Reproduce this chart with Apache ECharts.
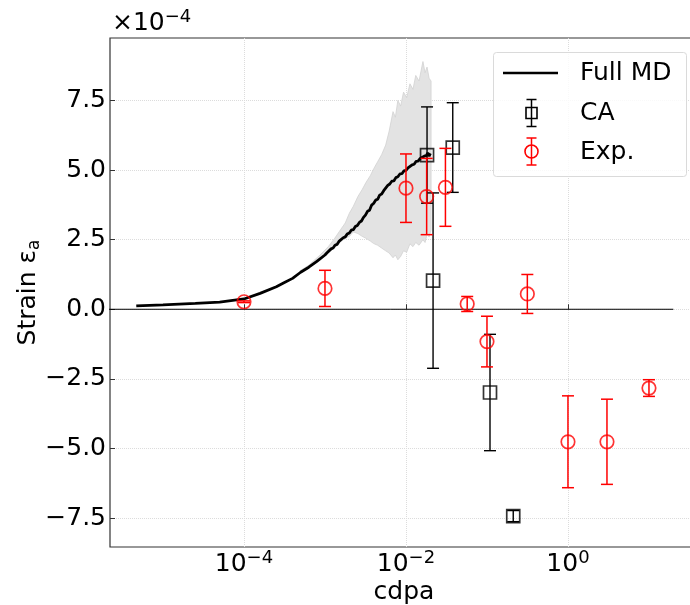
<!DOCTYPE html>
<html><head><meta charset="utf-8">
<script src="https://cdn.jsdelivr.net/npm/echarts@6/dist/echarts.min.js"></script>
<style>html,body{margin:0;padding:0;background:#fff}#c{width:690px;height:605px}</style>
</head><body><div id="c"></div>
<script>
const FONT = 'DejaVu Sans';
// tick positions
const xTicks = [1e-4, 1e-2, 1];
const yTicks = [-7.5, -5, -2.5, 0, 2.5, 5, 7.5];

// Full MD mean curve (cdpa, strain in 1e-4)
const mdX = [4.68e-6, 1e-5, 2.51e-5, 5.01e-5, 1e-4, 1.58e-4, 2.51e-4, 3.16e-4, 3.98e-4, 5.01e-4, 6.31e-4, 7.94e-4,
  1.00e-3, 1.06e-3, 1.12e-3, 1.19e-3, 1.26e-3, 1.33e-3, 1.41e-3, 1.50e-3, 1.58e-3, 1.68e-3, 1.78e-3, 1.88e-3,
  2.00e-3, 2.11e-3, 2.24e-3, 2.37e-3, 2.51e-3, 2.66e-3, 2.82e-3, 2.99e-3, 3.16e-3, 3.35e-3, 3.55e-3, 3.76e-3,
  3.98e-3, 4.22e-3, 4.47e-3, 4.73e-3, 5.01e-3, 5.31e-3, 5.62e-3, 5.96e-3, 6.31e-3, 6.68e-3, 7.08e-3, 7.50e-3,
  7.94e-3, 8.41e-3, 8.91e-3, 9.44e-3, 1.00e-2, 1.06e-2, 1.12e-2, 1.19e-2, 1.26e-2, 1.33e-2, 1.41e-2, 1.50e-2,
  1.58e-2, 1.68e-2, 1.78e-2, 1.86e-2, 1.93e-2, 2.00e-2];
const mdY = [0.12, 0.16, 0.21, 0.26, 0.37, 0.57, 0.81, 0.96, 1.11, 1.33, 1.51, 1.72,
  1.95, 2.03, 2.06, 2.17, 2.20, 2.30, 2.33, 2.45, 2.49, 2.57, 2.60, 2.70,
  2.74, 2.84, 2.86, 2.97, 3.01, 3.12, 3.17, 3.30, 3.38, 3.52, 3.56, 3.74,
  3.80, 3.92, 3.95, 4.10, 4.14, 4.26, 4.29, 4.45, 4.50, 4.60, 4.61, 4.73,
  4.76, 4.86, 4.87, 4.97, 4.99, 5.08, 5.09, 5.19, 5.21, 5.31, 5.32, 5.42,
  5.44, 5.50, 5.52, 5.62, 5.50, 5.60];

// Full MD spread band
const bandX = [4.9e-4, 6.3e-4, 8.7e-4, 1.1e-3, 1.32e-3, 1.55e-3, 1.78e-3, 2.0e-3, 2.24e-3, 2.55e-3, 2.88e-3,
  3.2e-3, 3.63e-3, 4.0e-3, 4.47e-3, 5.0e-3, 5.62e-3, 6.2e-3, 6.92e-3, 7.4e-3, 7.94e-3, 8.6e-3, 9.33e-3,
  1.02e-2, 1.12e-2, 1.22e-2, 1.32e-2, 1.45e-2, 1.62e-2, 1.72e-2, 1.82e-2, 1.93e-2, 2.04e-2];
const bandLow = [1.30, 1.47, 1.80, 2.02, 2.22, 2.42, 2.55, 2.62, 2.78, 2.72, 2.62, 2.55, 2.45, 2.36, 2.30, 2.20,
  2.10, 2.02, 1.85, 1.95, 1.78, 1.90, 2.10, 2.05, 2.35, 2.25, 2.40, 2.30, 2.50, 2.40, 2.70, 2.60, 2.85];
const bandHigh = [1.38, 1.58, 1.95, 2.25, 2.55, 2.85, 3.10, 3.45, 3.70, 4.05, 4.30, 4.55, 4.80, 5.05, 5.30, 5.55,
  5.90, 6.40, 7.10, 6.90, 7.50, 7.30, 7.80, 7.60, 8.10, 7.90, 8.40, 8.20, 8.90, 8.50, 8.70, 8.30, 8.20];

// CA
const caX = [0.0182, 0.0378, 0.0216, 0.109, 0.211];
const caY = [5.54, 5.81, 1.03, -2.99, -7.43];
const caErr = [1.73, 1.61, 3.15, 2.09, 0.2];

// Exp.
const expX = [1e-4, 1e-3, 1e-2, 0.018, 0.0307, 0.057, 0.1, 0.315, 1, 3.03, 10];
const expY = [0.27, 0.75, 4.35, 4.05, 4.38, 0.19, -1.16, 0.55, -4.76, -4.76, -2.83];
const expErr = [0.03, 0.65, 1.23, 1.37, 1.4, 0.27, 0.91, 0.7, 1.65, 1.53, 0.3];

// zero reference line
const zeroX = [1e-6, 20];
const zeroY = [0, 0];

const chart = echarts.init(document.getElementById('c'), null, {renderer: 'canvas'});

function errRender(color, half, lw) {
  return function (params, api) {
    const x = api.value(0), y = api.value(1), e = api.value(2);
    const t = api.coord([x, y + e]), b = api.coord([x, y - e]);
    const style = {stroke: color, lineWidth: lw, fill: null};
    return {type: 'group', children: [
      {type: 'line', shape: {x1: t[0], y1: t[1], x2: b[0], y2: b[1]}, style: style},
      {type: 'line', shape: {x1: t[0] - half, y1: t[1], x2: t[0] + half, y2: t[1]}, style: style},
      {type: 'line', shape: {x1: b[0] - half, y1: b[1], x2: b[0] + half, y2: b[1]}, style: style}
    ]};
  };
}

const supRich = {
  b: {fontSize: 25, fontFamily: FONT, color: '#000', lineHeight: 30, verticalAlign: 'middle'},
  s: {fontSize: 18, fontFamily: FONT, color: '#000', lineHeight: 18, verticalAlign: 'top'}
};

const option = {
  animation: false,
  backgroundColor: '#fff',
  grid: {left: 110, right: -8, top: 38, bottom: 58, outerBoundsMode: 'none', containLabel: false,
    show: true, borderColor: '#333', borderWidth: 1.2, backgroundColor: 'transparent'},
  xAxis: {
    type: 'log', logBase: 10,
    min: 2.218e-6, max: 40.3,
    name: 'cdpa', nameLocation: 'middle', nameGap: 33, nameMoveOverlap: false,
    nameTextStyle: {fontSize: 25, fontFamily: FONT, color: '#000'},
    axisLine: {show: false},
    axisTick: {show: true, inside: true, length: 5, customValues: xTicks, lineStyle: {color: '#333', width: 1}},
    axisLabel: {
      customValues: xTicks, margin: 2,
      formatter: function (v) {
        const e = Math.round(Math.log10(v));
        return '{b|10}{s|' + String(e).replace('-', '\u2212') + '}';
      },
      rich: supRich
    },
    splitLine: {show: true, lineStyle: {color: '#dcdcdc', type: 'dotted', width: 1}}
  },
  yAxis: {
    type: 'value', min: -8.54, max: 9.745,
    name: '{a|Strain ε}{s|a}', nameLocation: 'middle', nameGap: 67, nameRotate: 90, nameMoveOverlap: false,
    nameTextStyle: {
      rich: {
        a: {fontSize: 25, fontFamily: FONT, color: '#000', lineHeight: 30, verticalAlign: 'middle'},
        s: {fontSize: 17, fontFamily: FONT, color: '#000', lineHeight: 17, verticalAlign: 'bottom'}
      }
    },
    axisLine: {show: false},
    axisTick: {show: true, inside: true, length: 5, customValues: yTicks, lineStyle: {color: '#333', width: 1}},
    axisLabel: {
      customValues: yTicks, margin: 4, fontSize: 25, fontFamily: FONT, color: '#000',
      formatter: function (v) { return v.toFixed(1).replace('-', '\u2212'); }
    },
    splitLine: {show: true, lineStyle: {color: '#dcdcdc', type: 'dotted', width: 1}}
  },
  graphic: [
    {type: 'text', left: 112, top: 8, z: 50,
      style: {text: '{b|×10}{s|−4}', rich: supRich}},
    {type: 'rect', shape: {x: 493.5, y: 52.5, width: 193, height: 124, r: 3}, z: 100,
      style: {fill: 'rgba(255,255,255,0.82)', stroke: '#dadada', lineWidth: 1}},
    {type: 'line', shape: {x1: 503, y1: 73, x2: 558, y2: 73}, z: 101, style: {stroke: '#000', lineWidth: 2.5}},
    {type: 'text', x: 580, y: 73, z: 101, style: {text: 'Full MD', fontSize: 25, fontFamily: FONT, fill: '#000', verticalAlign: 'middle'}},
    // CA legend symbol
    {type: 'line', shape: {x1: 531.5, y1: 99.5, x2: 531.5, y2: 126.5}, z: 101, style: {stroke: '#000', lineWidth: 1.5}},
    {type: 'line', shape: {x1: 526.5, y1: 99.5, x2: 536.5, y2: 99.5}, z: 101, style: {stroke: '#000', lineWidth: 1.5}},
    {type: 'line', shape: {x1: 526.5, y1: 126.5, x2: 536.5, y2: 126.5}, z: 101, style: {stroke: '#000', lineWidth: 1.5}},
    {type: 'rect', shape: {x: 526, y: 107.5, width: 11, height: 11}, z: 101, style: {fill: 'none', stroke: '#000', lineWidth: 1.6}},
    {type: 'text', x: 580, y: 113, z: 101, style: {text: 'CA', fontSize: 25, fontFamily: FONT, fill: '#000', verticalAlign: 'middle'}},
    // Exp legend symbol
    {type: 'line', shape: {x1: 531.5, y1: 138, x2: 531.5, y2: 165}, z: 101, style: {stroke: '#ff0000', lineWidth: 1.5}},
    {type: 'line', shape: {x1: 526.5, y1: 138, x2: 536.5, y2: 138}, z: 101, style: {stroke: '#ff0000', lineWidth: 1.5}},
    {type: 'line', shape: {x1: 526.5, y1: 165, x2: 536.5, y2: 165}, z: 101, style: {stroke: '#ff0000', lineWidth: 1.5}},
    {type: 'circle', shape: {cx: 531.5, cy: 151.5, r: 6.5}, z: 101, style: {fill: 'none', stroke: '#ff0000', lineWidth: 1.6}},
    {type: 'text', x: 580, y: 152, z: 101, style: {text: 'Exp.', fontSize: 25, fontFamily: FONT, fill: '#000', verticalAlign: 'middle'}}
  ],
  series: [
    {
      type: 'custom', name: 'band', z: 1, silent: true,
      data: [0],
      renderItem: function (params, api) {
        const pts = [];
        for (let i = 0; i < bandX.length; i++) pts.push(api.coord([bandX[i], bandHigh[i]]));
        for (let i = bandX.length - 1; i >= 0; i--) pts.push(api.coord([bandX[i], bandLow[i]]));
        return {type: 'polygon', shape: {points: pts}, style: {fill: '#e3e3e3', stroke: '#d2d2d2', lineWidth: 0.8}};
      }
    },
    {
      type: 'line', name: 'zero', z: 2, symbol: 'none', silent: true,
      data: zeroX.map((x, i) => [x, zeroY[i]]),
      lineStyle: {color: '#000', width: 1}
    },
    {
      type: 'line', name: 'Full MD', z: 3, symbol: 'none', silent: true,
      data: mdX.map((x, i) => [x, mdY[i]]),
      lineStyle: {color: '#000', width: 2.8}
    },
    {
      type: 'custom', name: 'CA err', z: 4, silent: true,
      data: caX.map((x, i) => [x, caY[i], caErr[i]]),
      encode: {x: 0, y: 1},
      renderItem: errRender('#000', 6, 1.4)
    },
    {
      type: 'scatter', name: 'CA', z: 5, symbol: 'rect', symbolSize: 13, silent: true,
      data: caX.map((x, i) => [x, caY[i]]),
      itemStyle: {color: 'rgba(0,0,0,0)', borderColor: '#000', borderWidth: 1.7}
    },
    {
      type: 'custom', name: 'Exp err', z: 6, silent: true,
      data: expX.map((x, i) => [x, expY[i], expErr[i]]),
      encode: {x: 0, y: 1},
      renderItem: errRender('#ff0000', 6, 1.5)
    },
    {
      type: 'scatter', name: 'Exp.', z: 7, symbol: 'circle', symbolSize: 13.5, silent: true,
      data: expX.map((x, i) => [x, expY[i]]),
      itemStyle: {color: 'rgba(0,0,0,0)', borderColor: '#ff0000', borderWidth: 1.7}
    }
  ]
};
chart.setOption(option);
</script>
</body></html>
